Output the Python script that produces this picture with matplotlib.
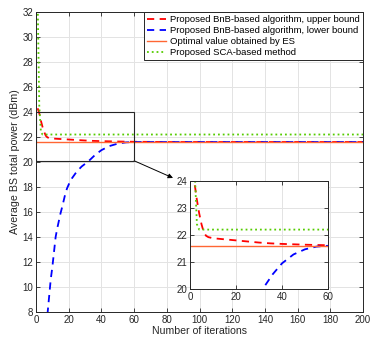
import matplotlib.pyplot as plt
from matplotlib.patches import Rectangle

plt.rcParams['font.family'] = ['Liberation Sans', 'DejaVu Sans']
plt.rcParams['font.size'] = 7

# upper bound of the BnB algorithm
ub_iter = [1, 2, 3, 4, 5, 6, 7, 8, 10, 15, 20, 25, 30, 35, 40, 50, 60, 70, 80, 200]
ub_val = [24.3, 23.9, 23.3, 22.8, 22.4, 22.1, 21.97, 21.92, 21.88, 21.84, 21.8,
          21.76, 21.72, 21.69, 21.67, 21.64, 21.62, 21.61, 21.6, 21.6]

# lower bound of the BnB algorithm
lb_iter = [5, 6, 7, 8, 9, 10, 11, 12, 13, 14, 15, 16, 18, 19, 20, 22, 25, 28,
           32, 36, 40, 45, 50, 55, 60, 200]
lb_val = [3.0, 5.6, 7.8, 9.2, 10.6, 11.6, 12.8, 14.0, 14.7, 15.3, 15.9, 16.4,
          17.5, 17.9, 18.2, 18.7, 19.25, 19.65, 20.05, 20.55, 20.95, 21.28,
          21.47, 21.57, 21.6, 21.6]

# exhaustive search optimum
es_iter = [0, 200]
es_val = [21.6, 21.6]

# SCA-based method
sca_iter = [1, 2, 3, 4, 200]
sca_val = [33.0, 24.5, 22.4, 22.2, 22.2]

labels = ['Proposed BnB-based algorithm, upper bound',
          'Proposed BnB-based algorithm, lower bound',
          'Optimal value obtained by ES',
          'Proposed SCA-based method']

c_ub = '#ff0000'
c_lb = '#0000ff'
c_es = '#ff6633'
c_sca = '#55cc00'


def draw(ax):
    ax.plot(ub_iter, ub_val, '--', color=c_ub, lw=1.3, dashes=(4, 3), label=labels[0])
    ax.plot(lb_iter, lb_val, '--', color=c_lb, lw=1.3, dashes=(4, 3), label=labels[1])
    ax.plot(es_iter, es_val, '-', color=c_es, lw=1.0, label=labels[2])
    ax.plot(sca_iter, sca_val, ':', color=c_sca, lw=1.3, label=labels[3])
    ax.grid(True, color='#e3e3e3', lw=0.7)
    ax.set_axisbelow(True)
    ax.tick_params(direction='in', top=True, right=True, length=3, width=0.6,
                   colors='#262626', labelsize=7, pad=2)
    for s in ax.spines.values():
        s.set_color('#262626')
        s.set_linewidth(0.7)


fig = plt.figure(figsize=(3.7, 3.39), dpi=100)
ax = fig.add_axes([0.0973, 0.0796, 0.884, 0.885])
draw(ax)
ax.set_xlim(0, 200)
ax.set_ylim(8, 32)
ax.set_xticks(range(0, 201, 20))
ax.set_yticks(range(8, 33, 2))
ax.set_xlabel('Number of iterations', fontsize=7.6, labelpad=1, color='#262626')
ax.set_ylabel('Average BS total power (dBm)', fontsize=7.7, labelpad=2, color='#262626')

leg = ax.legend(loc='upper right', fontsize=6.8, handlelength=2.0, handletextpad=0.45,
                borderaxespad=0.0, borderpad=0.35, labelspacing=0.2, fancybox=False,
                framealpha=1)
leg.get_frame().set_edgecolor('#262626')
leg.get_frame().set_linewidth(0.7)

# zoomed region
ax.add_patch(Rectangle((0, 20.1), 60, 3.9, fill=False, ec='#262626', lw=0.8, zorder=5))

axins = fig.add_axes([0.5135, 0.1475, 0.373, 0.3186])
draw(axins)
axins.set_xlim(0, 60)
axins.set_ylim(20, 24)
axins.set_xticks([0, 20, 40, 60])
axins.set_yticks([20, 21, 22, 23, 24])
axins.set_facecolor('white')

ax.annotate('', xy=(-0.123, 1.028), xycoords=axins.transAxes,
            xytext=(60, 20.1), textcoords='data',
            arrowprops=dict(arrowstyle='-|>', color='black', lw=0.7,
                            mutation_scale=7, shrinkA=0, shrinkB=0))

fig.savefig('out.png', dpi=100)
